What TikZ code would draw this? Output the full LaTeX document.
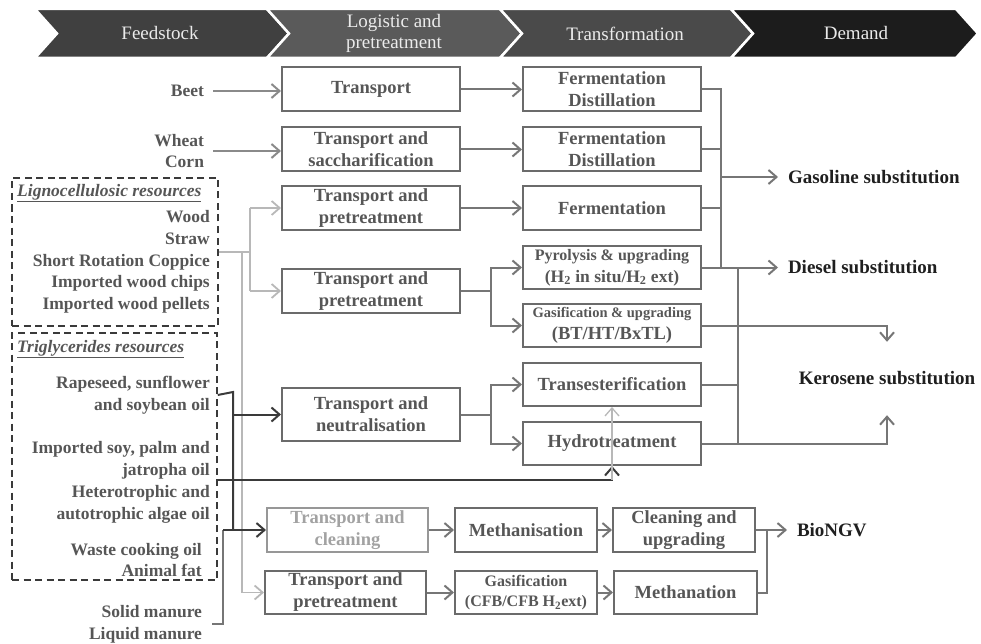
\documentclass[tikz,border=0pt]{standalone}
\usepackage{fontspec}
\setmainfont{Liberation Serif}
\usepackage{tikz}
\usetikzlibrary{positioning, arrows.meta, calc}
\definecolor{BoxGray}{HTML}{6B6B6B}
\definecolor{TextGray}{HTML}{565656}
\definecolor{PaleGray}{HTML}{B8B8B8}
\definecolor{LinkGray}{HTML}{767676}
\definecolor{OilDark}{HTML}{3A3A3A}
\definecolor{StepOne}{HTML}{404040}
\definecolor{StepTwo}{HTML}{5A5A5A}
\definecolor{StepThree}{HTML}{4A4A4A}
\definecolor{StepFour}{HTML}{1C1C1C}

\begin{document}
\begin{tikzpicture}[
      x=1pt, y=-1pt,
      chev/.style={draw=white, line width=2.5pt, line join=miter},
      head/.style={text=white!92!black, align=center, inner sep=0pt, font=\fontsize{19}{21}\selectfont},
      proc/.style={draw=BoxGray, line width=2pt, text=TextGray, align=center, inner sep=0pt,
        minimum width=178pt, minimum height=44pt, font=\bfseries\fontsize{18.5}{22}\selectfont},
      palebox/.style={draw=BoxGray!70, text=TextGray!55},
      feed/.style={text=TextGray, align=right, inner sep=0pt, font=\bfseries\fontsize{17.5}{21.75}\selectfont},
      restitle/.style={text=TextGray, inner sep=0pt, font=\bfseries\itshape\fontsize{17.5}{21}\selectfont},
      resbox/.style={draw=OilDark, line width=1.5pt, dash pattern=on 7pt off 4.5pt, inner sep=0pt},
      demand/.style={text=black!88, inner sep=0pt, outer xsep=10pt, anchor=west, font=\bfseries\fontsize{19}{22}\selectfont},
      wire/.style={LinkGray, line width=2pt},
      link/.style={wire, -{Straight Barb[length=8pt,width=14pt]}},
      palewire/.style={PaleGray, line width=1.8pt},
      palelink/.style={palewire, -{Straight Barb[length=8pt,width=14pt]}},
      oilwire/.style={OilDark, line width=2pt},
      oillink/.style={oilwire, -{Straight Barb[length=8pt,width=14pt]}}
  ]
    \useasboundingbox (0,0) rectangle (981,644);
    % header
    \fill[StepOne, chev] (35,9) -- (267,9) -- (289,33.5) -- (267,58) -- (35,58) -- (57,33.5) -- cycle;
    \fill[StepTwo, chev] (267,9) -- (500,9) -- (522,33.5) -- (500,58) -- (267,58) -- (289,33.5) -- cycle;
    \fill[StepThree, chev] (500,9) -- (731,9) -- (753,33.5) -- (731,58) -- (500,58) -- (522,33.5) -- cycle;
    \fill[StepFour, chev] (731,9) -- (956,9) -- (978,33.5) -- (956,58) -- (731,58) -- (753,33.5) -- cycle;
    \node[head] (h1) at (160,33.5) {Feedstock};
    \node[head] (h2) at (394,33.5) {Logistic and\\pretreatment};
    \node[head] (h3) at (625,33.5) {Transformation};
    \node[head] (h4) at (856,33.5) {Demand};

    % feedstock
    \node[feed, anchor=east, outer xsep=9pt] (beet) at (213,91) {Beet};
    \node[feed, anchor=east, outer xsep=9pt] (wheat) at (213,151) {Wheat\\Corn};
    \node[resbox, minimum width=206pt, minimum height=148pt] (ligbox) at (115,252) {};
    \node[restitle, anchor=west] (ligtitle) at (17,193) {\underline{Lignocellulosic resources}};
    \node[feed, anchor=east] (ligitems) at (210,262) {Wood\\Straw\\Short Rotation Coppice\\Imported wood chips\\Imported wood pellets};
    \node[resbox, minimum width=205pt, minimum height=247pt] (tribox) at (114.5,456.5) {};
    \node[restitle, anchor=west] (trititle) at (17,349) {\underline{Triglycerides resources}};
    \node[feed, anchor=east] (rape) at (210,395) {Rapeseed, sunflower\\and soybean oil};
    \node[feed, anchor=east] (soy) at (210,460) {Imported soy, palm and\\jatropha oil};
    \node[feed, anchor=east] (algae) at (210,504) {Heterotrophic and\\autotrophic algae oil};
    \node[feed, anchor=east] (waste) at (202,560) {Waste cooking oil\\Animal fat};
    \node[feed, anchor=east, outer xsep=10pt] (manure) at (212,624) {Solid manure\\Liquid manure};

    % logistic and pretreatment
    \node[proc] (tr1) at (371,89.5) {Transport};
    \node[proc] (tr2) at (371,149.5) {Transport and\\saccharification};
    \node[proc] (tr3) at (371,208) {Transport and\\pretreatment};
    \node[proc] (tr4) at (371,291) {Transport and\\pretreatment};
    \node[proc, minimum height=53pt] (trn) at (371,414.5) {Transport and\\neutralisation};
    \node[proc, palebox, minimum width=161pt] (trc) at (347.5,530) {Transport and\\cleaning};
    \node[proc, minimum width=161pt, minimum height=43pt] (trp) at (345.5,592.5) {Transport and\\pretreatment};

    % transformation
    \node[proc] (fd1) at (612,89.5) {Fermentation\\Distillation};
    \node[proc] (fd2) at (612,149.5) {Fermentation\\Distillation};
    \node[proc] (fe) at (612,208) {Fermentation};
    \node[proc, minimum height=43pt] (py) at (612,267.5) {{\fontsize{16}{20}\selectfont Pyrolysis \& upgrading}\\{\fontsize{17.5}{20}\selectfont (H\textsubscript{2} in situ/H\textsubscript{2} ext)}};
    \node[proc, minimum height=43pt] (ga) at (612,325.5) {{\fontsize{14.5}{18}\selectfont Gasification \& upgrading}\\(BT/HT/BxTL)};
    \node[proc, minimum height=43pt] (te) at (612,384.5) {Transesterification};
    \node[proc, minimum height=43pt] (ht) at (612,443.5) {Hydrotreatment};
    \node[proc, minimum width=142pt] (me) at (526,530) {Methanisation};
    \node[proc, minimum width=142pt, minimum height=43pt, font=\bfseries\fontsize{16}{20}\selectfont] (gc) at (526,592.5) {Gasification\\(CFB/CFB H\textsubscript{2}ext)};
    \node[proc, minimum width=142pt] (cu) at (684,530) {Cleaning and\\upgrading};
    \node[proc, minimum width=143pt, minimum height=43pt] (mn) at (685.5,592.5) {Methanation};

    % demand
    \node[demand] (gas) at (778,177) {Gasoline substitution};
    \node[demand] (die) at (778,267.5) {Diesel substitution};
    \node[text=black!88, inner sep=0pt, minimum height=73pt, font=\bfseries\fontsize{19}{22}\selectfont] (ker) at (887,378.5) {Kerosene substitution};
    \node[demand] (bio) at (787,530) {BioNGV};

    \coordinate (strawbus) at (250,252);
    \coordinate (palebus) at (242,252);
    \coordinate (oilbus) at (233,392);
    \coordinate (manbus) at (223,530);
    \coordinate (soyout) at (217,480);
    \coordinate (lb) at (491,291);
    \coordinate (nb) at (491,414.5);
    \coordinate (gbus) at (721,177);
    \coordinate (dbus) at (738,267.5);
    \coordinate (bbus) at (767,530);

    % feedstock to logistic
    \draw[link, LinkGray!85] (beet.east) -- (beet.east -| tr1.west);
    \draw[link, LinkGray!85] (wheat.east) -- (wheat.east -| tr2.west);
    \draw[palewire] (ligbox.east) -- (strawbus);
    \draw[palewire] (strawbus |- tr3.west) -- (strawbus |- tr4.west);
    \draw[palelink] (strawbus |- tr3.west) -- (tr3.west);
    \draw[palelink] (strawbus |- tr4.west) -- (tr4.west);
    \draw[palelink] (palebus) -- (palebus |- trp.west) -- (trp.west);
    \draw[wire] (manure.east) -- (manure.east -| manbus) -- (manbus);
    \draw[oilwire] (rape -| tribox.east) -- (oilbus) -- (oilbus |- trc.west);
    \draw[oillink] (oilbus |- trn.west) -- (trn.west);
    \draw[oillink] (manbus) -- (trc.west);
    \draw[oillink] (soyout) -- (soyout -| ht.south) -- (ht.south);
    \draw[palelink, line width=1.3pt] (soyout -| ht.south) -- (te.south);

    % logistic to transformation
    \draw[link] (tr1) -- (fd1);
    \draw[link] (tr2) -- (fd2);
    \draw[link] (tr3) -- (fe);
    \draw[wire] (tr4.east) -- (lb);
    \draw[link] (lb) |- (py.west);
    \draw[link] (lb) |- (ga.west);
    \draw[wire] (trn.east) -- (nb);
    \draw[link] (nb) |- (te.west);
    \draw[link] (nb) |- (ht.west);
    \draw[link] (trc) -- (me);
    \draw[link] (me) -- (cu);
    \draw[link] (trp) -- (gc);
    \draw[link] (gc) -- (mn);

    % transformation to demand
    \draw[wire] (fd1.east) -| (gbus |- py.east);
    \draw[wire] (fd2.east) -- (fd2.east -| gbus);
    \draw[wire] (fe.east) -- (fe.east -| gbus);
    \draw[link] (gbus) -- (gas.west);
    \draw[link] (py.east) -- (die.west);
    \draw[wire] (dbus) -- (dbus |- ht.east);
    \draw[wire] (te.east) -- (te.east -| dbus);
    \draw[link] (ga.east) -| (ker.north);
    \draw[link] (ht.east) -| (ker.south);
    \draw[link] (cu.east) -- (bio.west);
    \draw[wire] (mn.east) -| (bbus);
  \end{tikzpicture}
\end{document}
